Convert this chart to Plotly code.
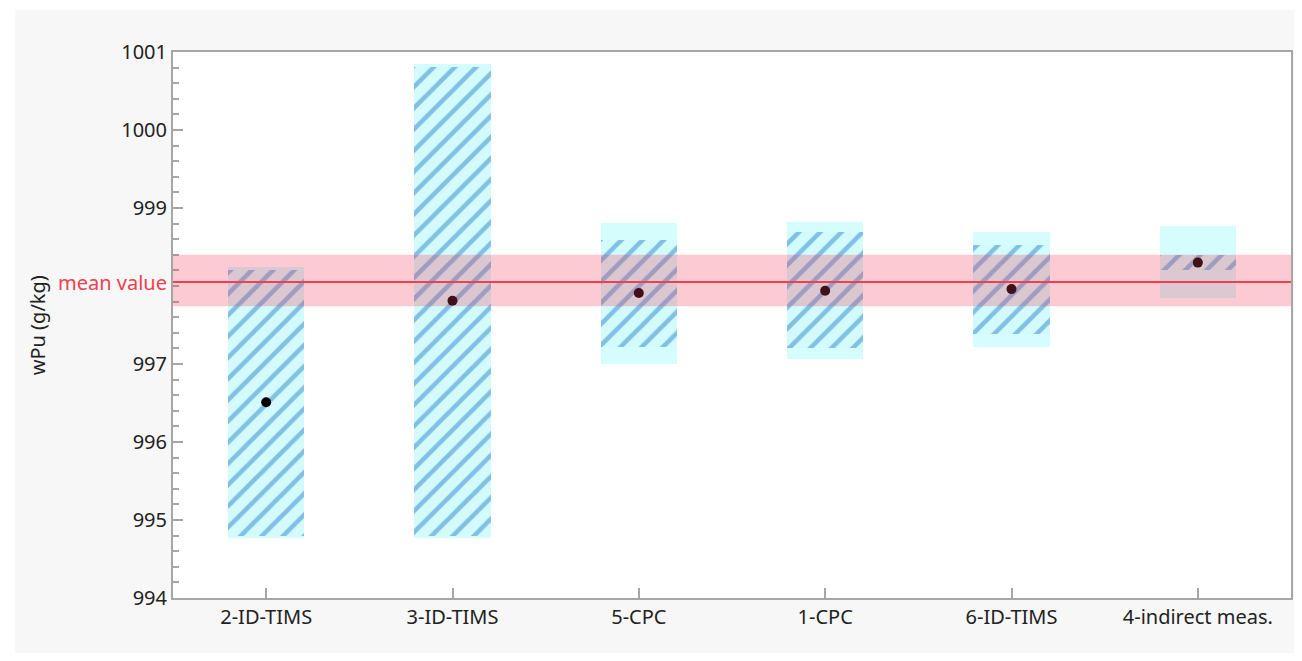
import plotly.graph_objects as go

categories = ["2-ID-TIMS", "3-ID-TIMS", "5-CPC", "1-CPC", "6-ID-TIMS", "4-indirect meas."]
values = [996.51, 997.81, 997.91, 997.94, 997.96, 998.30]
hatch_low = [994.80, 994.80, 997.22, 997.20, 997.38, 998.21]
hatch_high = [998.21, 1000.81, 998.59, 998.69, 998.53, 998.40]
outer_low = [994.77, 994.77, 997.00, 997.07, 997.22, 997.85]
outer_high = [998.24, 1000.84, 998.81, 998.82, 998.69, 998.77]
mean_value = 998.05
mean_low = 997.74
mean_high = 998.40
y_tick_vals = [994, 995, 996, 997, 999, 1000, 1001]
y_tick_text = ["994", "995", "996", "997", "999", "1000", "1001"]

FONT = "Noto Sans"
BAR_W = 0.41

fig = go.Figure()

fig.add_trace(go.Bar(
    x=categories,
    base=outer_low,
    y=[h - l for h, l in zip(outer_high, outer_low)],
    width=BAR_W,
    marker=dict(color="#d5fdfd", line=dict(width=0)),
    hoverinfo="skip",
    showlegend=False,
))

fig.add_trace(go.Bar(
    x=categories,
    base=hatch_low,
    y=[h - l for h, l in zip(hatch_high, hatch_low)],
    width=BAR_W,
    marker=dict(
        color="#d5fdfd",
        line=dict(width=0),
        pattern=dict(shape="/", fillmode="replace", bgcolor="#d3fbfc",
                     fgcolor="#80c0e6", size=15, solidity=0.3),
    ),
    hoverinfo="skip",
    showlegend=False,
))

fig.add_trace(go.Scatter(
    x=categories,
    y=values,
    mode="markers",
    marker=dict(color="black", size=10),
    showlegend=False,
))

# background panel and white plot area
fig.add_shape(type="rect", xref="paper", yref="paper",
              x0=-0.1411, x1=1.03, y0=-0.13, y1=1.0769,
              fillcolor="#f7f7f7", line=dict(width=0), layer="below")
fig.add_shape(type="rect", xref="paper", yref="paper",
              x0=0, x1=1, y0=0, y1=1,
              fillcolor="white", line=dict(width=0), layer="below")

# mean band and line (drawn on top)
fig.add_shape(type="rect", xref="paper", yref="y",
              x0=0, x1=1, y0=mean_low, y1=mean_high,
              fillcolor="rgba(240,60,90,0.27)", line=dict(width=0), layer="above")
fig.add_shape(type="line", xref="paper", yref="y",
              x0=0, x1=1, y0=mean_value, y1=mean_value,
              line=dict(color="#f0404f", width=2), layer="above")

fig.add_annotation(x=0, xref="paper", y=mean_value, yref="y",
                   text="mean value", showarrow=False, xanchor="right",
                   xshift=-4, font=dict(family=FONT, size=20, color="#f0404f"))

fig.add_annotation(x=-0.1214, xref="paper", y=0.5, yref="paper",
                   text="wPu (g/kg)", textangle=-90, showarrow=False,
                   xanchor="center", yanchor="middle",
                   font=dict(family=FONT, size=20, color="#222"))

fig.update_layout(
    width=1292, height=645,
    margin=dict(l=165, r=7, t=44, b=55),
    paper_bgcolor="white",
    plot_bgcolor="rgba(0,0,0,0)",
    barmode="overlay",
    bargap=0,
    font=dict(family=FONT, size=20, color="#222"),
    xaxis=dict(
        type="category",
        range=[-0.5, 5.5],
        showline=True, linecolor="#a6a6a6", linewidth=2, mirror=True,
        ticks="inside", ticklen=10, tickcolor="#a6a6a6", tickwidth=2,
        showgrid=False, zeroline=False,
        tickfont=dict(family=FONT, size=20, color="#222"),
    ),
    yaxis=dict(
        range=[994, 1001],
        tickvals=y_tick_vals,
        ticktext=y_tick_text,
        showline=True, linecolor="#a6a6a6", linewidth=2, mirror=True,
        ticks="inside", ticklen=10, tickcolor="#a6a6a6", tickwidth=2,
        minor=dict(dtick=0.2, ticks="inside", ticklen=6, tickcolor="#a6a6a6", tickwidth=2,
                   showgrid=False),
        showgrid=False, zeroline=False,
        tickfont=dict(family=FONT, size=20, color="#222"),
    ),
)

fig.write_html("out.html")
